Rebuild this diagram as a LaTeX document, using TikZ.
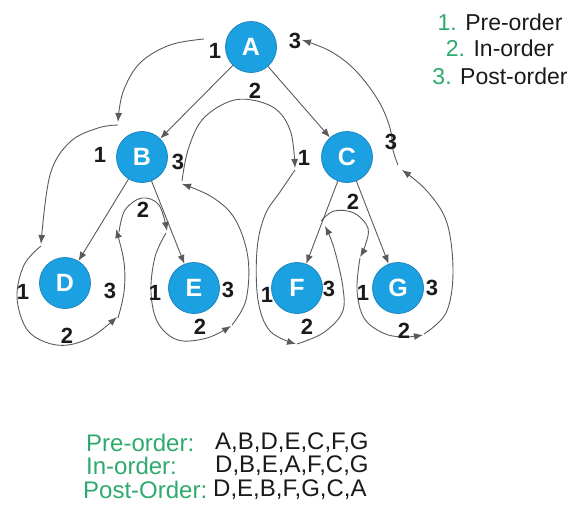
\documentclass[tikz,border=0pt]{standalone}
\usepackage{fontspec}
\setmainfont{Liberation Sans}
\usetikzlibrary{shapes,arrows,arrows.meta}
\definecolor{cBlue}{HTML}{1BA1E2}
\definecolor{cBlueDark}{HTML}{1C86BE}
\definecolor{cGreen}{HTML}{2EAA6E}
\definecolor{cGray}{HTML}{5A5A5A}
\definecolor{cText}{HTML}{1A1A1A}

\tikzset{
  vertex/.style={circle, fill=cBlue, draw=cBlueDark, line width=0.8pt, minimum size=51pt,
    inner sep=0pt, text=white, font=\fontsize{25}{25}\selectfont\bfseries},
  num/.style={font=\fontsize{22}{22}\selectfont\bfseries, text=cText, inner sep=0pt},
  edge/.style={cGray, line width=0.9pt, -{Latex[length=9pt,width=7pt]}},
  txt/.style={font=\fontsize{24}{28}\selectfont, text=cText, inner sep=0pt, anchor=west},
  legend/.style={font=\fontsize{23}{26}\selectfont, text=cText, inner sep=0pt},
}

\begin{document}
\begin{tikzpicture}[x=1pt, y=-1pt]
  \useasboundingbox (0,0) rectangle (579,512);

  \node[vertex] (A) at (251,47) {A};
  \node[vertex] (B) at (142,157) {B};
  \node[vertex] (C) at (347,157) {C};
  \node[vertex] (D) at (65,283) {D};
  \node[vertex] (E) at (194,288) {E};
  \node[vertex] (F) at (297,288) {F};
  \node[vertex] (G) at (398,288) {G};

  \draw[edge] (A) -- (B);
  \draw[edge] (A) -- (C);
  \draw[edge] (B) -- (D);
  \draw[edge] (B) -- (E);
  \draw[edge] (C) -- (F);
  \draw[edge] (C) -- (G);

  \draw[edge] plot[smooth, tension=0.6] coordinates {(204,39) (170,45) (140,63) (123,92) (118,122)};
  \draw[edge] plot[smooth, tension=0.6] coordinates {(118,125) (98,128) (70,142) (50,175) (41,244)};
  \draw[edge] plot[smooth, tension=0.6] coordinates {(41,246) (24,265) (17,297) (26,328) (45,342) (68,345) (93,336) (117,317)};
  \draw[edge] plot[smooth, tension=0.6] coordinates {(118,318) (124,292) (124,262) (116,229)};
  \draw[edge] plot[smooth, tension=0.6] coordinates {(119,232) (125,210) (142,198) (159,205) (167,231)};
  \draw[edge] plot[smooth, tension=0.6] coordinates {(166,233) (155,257) (151,292) (158,323) (178,340) (207,338) (231,326)};
  \draw[edge] plot[smooth, tension=0.6] coordinates {(232,325) (246,300) (248,258) (235,219) (212,197) (182,184)};
  \draw[edge] plot[smooth, tension=0.6] coordinates {(182,181) (188,150) (202,120) (228,102) (252,100) (277,110) (291,133) (295,168)};
  \draw[edge] plot[smooth, tension=0.6] coordinates {(295,170) (280,192) (265,215) (257,250) (258,300) (270,331) (296,344)};
  \draw[edge] plot[smooth, tension=0.6] coordinates {(297,344) (323,333) (342,313) (343,288) (334,248) (325,226)};
  \draw[edge] plot[smooth, tension=0.6] coordinates {(321,221) (334,211) (354,213) (368,228) (365,246) (360,257)};
  \draw[edge] plot[smooth, tension=0.6] coordinates {(360,258) (357,290) (364,318) (383,333) (403,337) (423,335)};
  \draw[edge] plot[smooth, tension=0.6] coordinates {(424,334) (446,313) (453,273) (447,223) (427,191) (402,170)};
  \draw[edge] plot[smooth, tension=0.6] coordinates {(398,165) (393,150) (390,128) (378,100) (355,70) (330,51) (302,40)};

  \node[num] (A1) at (215,51) {1};
  \node[num] (A2) at (255,91) {2};
  \node[num] (A3) at (295,41) {3};
  \node[num] (B1) at (100,155) {1};
  \node[num] (B3) at (178,162) {3};
  \node[num] (C1) at (304,158) {1};
  \node[num] (C3) at (391,142) {3};
  \node[num] (D1) at (23,292) {1};
  \node[num] (D2) at (67,336) {2};
  \node[num] (D3) at (110,291) {3};
  \node[num] (B2) at (143,210) {2};
  \node[num] (E1) at (155,293) {1};
  \node[num] (E2) at (200,327) {2};
  \node[num] (E3) at (228,290) {3};
  \node[num] (F1) at (267,295) {1};
  \node[num] (F2) at (307,327) {2};
  \node[num] (F3) at (329,289) {3};
  \node[num] (C2) at (353,202) {2};
  \node[num] (G1) at (363,293) {1};
  \node[num] (G2) at (404,331) {2};
  \node[num] (G3) at (432,288) {3};

  \node[legend] (pre) at (500,22) {\textcolor{cGreen}{1.} Pre-order};
  \node[legend] (in) at (500,48) {\textcolor{cGreen}{2.} In-order};
  \node[legend] (post) at (500,76) {\textcolor{cGreen}{3.} Post-order};

  \node[txt, text=cGreen] (preLab) at (86,443) {Pre-order:};
  \node[txt] (preSeq) at (215,443) {A,B,D,E,C,F,G};
  \node[txt, text=cGreen] (inLab) at (86,466) {In-order:};
  \node[txt] (inSeq) at (215,466) {D,B,E,A,F,C,G};
  \node[txt, text=cGreen] (postLab) at (83,490) {Post-Order:};
  \node[txt] (postSeq) at (213,490) {D,E,B,F,G,C,A};
\end{tikzpicture}
\end{document}
